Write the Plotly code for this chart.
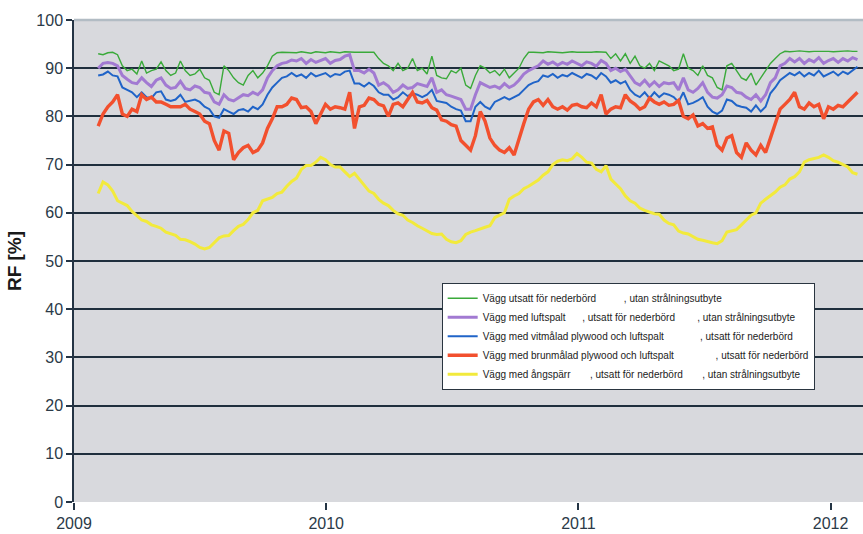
import pandas as pd
import plotly.graph_objects as go

# Weekly relative humidity readings (RF, %) from Feb 2009 to Feb 2012
weeks = pd.date_range("2009-02-05", periods=158, freq="7D")

green = [
    93, 92.8, 93.2, 93.3, 92.8, 90.5, 89.5, 89.8, 88.8, 91.5,
    89, 89.5, 89.8, 91.3, 89.5, 88.5, 89, 91.5, 89.5, 88.5,
    88.8, 89.8, 88, 87.5, 85, 84.5, 90.5, 89.5, 88, 87,
    86.5, 88.5, 89.5, 88, 89, 90.5, 92.5, 93.2, 93.3, 93.3,
    93.3, 93.2, 93.4, 93.3, 93.1, 93.4, 93.3, 93.2, 93.4, 93.3,
    93.2, 93.4, 93.3, 93.3, 93.3, 93.3, 93.3, 93.3,
    92, 91, 90.5, 89.5, 91, 89.5, 90, 92, 89.5, 90,
    88.8, 92.5, 88.5, 88, 87.8, 89.5, 89, 90, 86.5, 85.8, 88.5,
    90.5, 90, 89, 89.5, 88.5, 89.8, 88, 89, 90, 92, 93.3,
    93.3, 93.3, 93.2, 93.4, 93.3, 93.3, 93.2, 93.3, 93.4, 93.3,
    93.3, 93.2, 93.3, 93.4, 93.3, 93.3,
    92, 93, 91.5, 93, 91, 92.5, 90.5, 90, 91, 89.5, 91.5, 91, 90.5,
    89.5, 89.8, 93, 90, 89.5, 88.5, 90.5, 88.5, 88, 86,
    85.5, 90.5, 91, 89.5, 88, 87.5, 89, 86.5, 88, 89.5,
    91, 92, 93,
    93.5, 93.4, 93.5, 93.6, 93.5, 93.4, 93.5, 93.5, 93.6, 93.5,
    93.4, 93.5, 93.5, 93.6, 93.5, 93.5,
]

purple = [
    90, 91, 91.2, 91, 90.5, 88.5, 87.7, 87, 86.8, 88,
    87, 86.2, 87.5, 88, 86.5, 85.8, 86, 87.3, 85.8, 85.5,
    86.3, 86, 85, 84.8, 83, 82.5, 84.5, 83.5, 83.2, 83.8,
    84.5, 84.3, 85, 84.5, 85.5, 88, 89.5, 90.5, 91, 91.2,
    91.7, 91.5, 92, 91, 91.8, 91.2, 91.6, 92, 91, 91.6,
    91.8, 92.5, 92.8, 89.5, 89.5, 89, 89.8, 89, 86.5, 87,
    86.3, 85, 85.5, 86.5, 85.8, 86, 86.8, 86.5, 86.2, 88,
    85, 85.5, 84.5, 84.2, 83.8, 83.5, 81.5, 81.5, 84.5,
    87, 86.5, 86, 86.3, 85.8, 86.8, 86, 86.5, 87.5, 88.8,
    89.5, 90, 90.5, 91.5, 90.8, 91.3, 90.6, 91.2, 90.8, 91.5,
    91, 90.5, 91.3, 91, 90.4, 91.6, 91, 89.5, 90, 89.3,
    89.8, 88.5, 87, 86.5, 87.5, 86.3, 87.2, 86.2, 87, 86.8,
    87, 85.5, 88, 85.5, 85, 85.8, 87, 85, 84, 83.8,
    84.5, 86.3, 86, 85, 84.8, 84, 83.5, 84.5, 83.2, 84.5,
    87, 88, 90.5, 91, 92, 91.3, 92, 91, 91.8, 91.3,
    92.2, 91, 91.6, 92, 91.2, 92, 91.5, 92.2, 91.8,
]

blue = [
    88.5, 88.7, 89.3, 88.5, 88.3, 86, 85.5, 85, 84, 85,
    84, 83.8, 85, 85.2, 83.5, 83.2, 83.5, 84.5, 83, 83.3,
    83.5, 83, 82, 81.5, 80, 79.7, 81.5, 81, 80.5, 81.3,
    81.5, 81, 82, 81.5, 82.5, 84.5, 86, 87, 88, 88.3,
    89, 88.3, 88.7, 88, 89, 88.3, 88.6, 89, 88.2, 88.8,
    88.6, 89.3, 89.5, 86.8, 86.8, 86.2, 87, 86.3, 85, 84.5,
    84.5, 83.5, 84, 85, 84.2, 84.8, 84.5, 84, 84.5, 85.5,
    83.2, 83, 82.8, 82, 81.5, 81.2, 79, 79, 82,
    83, 82, 81.5, 83, 83.5, 84, 83.5, 84, 84.5, 85.5,
    86.5, 87, 87.3, 88.5, 88.2, 88.8, 88, 88.6, 88.3, 89,
    88.5, 88, 88.8, 88.5, 87.8, 89, 88.3, 87, 87.5, 86.8,
    87.3, 85.5, 84.5, 84, 85, 83.8, 85, 84, 84.8, 84.5,
    84, 83, 85, 82.5, 82.8, 83.3, 84, 82, 81, 80.5,
    81.2, 83.5, 83.2, 82.3, 82, 81.8, 81, 82.3, 81, 82,
    84.8, 86, 87.5, 88.2, 89, 88.5, 89.2, 88.3, 89, 88.5,
    89.5, 88.3, 88.8, 89.3, 88.5, 89.3, 88.8, 89.6, 90.3,
]

red = [
    78, 80.5, 82, 83, 84.5, 80.5, 80, 81.5, 81, 84.5,
    83.5, 84, 83, 83, 82.5, 82, 82, 82, 82.5, 81.5,
    81, 80.5, 79, 78.5, 75, 73, 77, 76.5, 71, 72.5,
    73.5, 74, 72.5, 73, 74.5, 77.5, 79.5, 82, 82, 82.5,
    83.8, 83.5, 81.8, 82, 81, 78.5, 80.5, 82.5, 81.5, 82,
    81.8, 81.5, 85, 77.5, 82, 82.3, 83.8, 83.5, 82.5, 82.2,
    80, 82.5, 82.8, 82, 83.5, 85, 83, 82.8, 83.3, 81.8,
    81.3, 79.3, 79, 78.3, 78, 75, 74, 73, 76,
    81, 79, 75.5, 74, 73, 72.5, 73.5, 72, 75.5, 78.5,
    81.5, 83, 83.5, 82.3, 83.5, 82, 81.5, 82, 81.3, 82.3,
    82.5, 82, 81.8, 82.8, 82, 84.5, 80.5, 81.5, 82, 81.8,
    84.5, 83.2, 82.5, 81.5, 82, 83.8, 83, 82.5, 83, 82.3,
    82.5, 83.3, 80, 79.5, 80.3, 78, 78.5, 77.5, 77.8, 74,
    73, 75.5, 76, 72.5, 71.5, 74.5, 73, 72, 74, 72.5,
    75.5, 78.5, 81.5, 82.5, 83.5, 85, 82, 81.5, 82.8, 82,
    82.5, 79.5, 82, 81.5, 82.3, 82, 83, 84, 85,
]

yellow = [
    64, 66.4, 65.8, 64.5, 62.5, 62, 61.5, 60.3, 59.5, 58.5,
    58.2, 57.5, 57.2, 56.8, 56, 55.6, 55.3, 54.5, 54.4, 54,
    53.5, 52.8, 52.5, 52.8, 53.8, 54.8, 55.2, 55.3, 56.3, 57.2,
    57.6, 58.6, 60, 60.5, 62.5, 62.8, 63.2, 64, 64.3, 65.5,
    66.5, 67.2, 69, 69.8, 69.8, 70.5, 71.5, 71, 70, 69.5,
    69.5, 68.5, 67.5, 68.2, 67, 65.8, 64.5, 64, 62.8, 62,
    61.5, 60.5, 59.8, 59.5, 58.5, 58, 57.3, 56.8, 56.3, 55.7,
    55.5, 55.6, 54.5, 54, 53.8,
    54.2, 55.5, 56, 56.3, 56.7, 57, 57.3, 59, 59.5, 60,
    62.8, 63.5, 64, 65, 65.5, 66.2, 66.8, 67.8, 68.5, 70,
    70.7, 71, 70.8, 71.2, 72.3, 71.5, 70.5, 70.3, 69, 68.5,
    69.8, 67, 66, 65, 63.5, 62.5, 62, 61, 60.5, 60.2,
    59.8, 59.7, 58.5, 57.8, 57.5, 56.2, 55.8, 55.6, 55, 54.5,
    54.3, 54, 53.8, 53.6, 54.2, 56, 56.2, 56.5, 57.5, 58.5,
    59.5, 60, 62, 62.8, 63.5, 64.3, 65.3, 65.8, 67, 67.5,
    68.5, 70.5, 71, 71.3, 71.5, 72, 71.5, 70.8, 70.5, 70,
    69.5, 68.3, 68,
]

year_ticks = ["2009-01-01", "2010-01-01", "2011-01-01", "2012-01-01"]
year_labels = ["2009", "2010", "2011", "2012"]

S = "\u00a0"
series = [
    ("Vägg utsatt för nederbörd" + S * 10 + ", utan strålningsutbyte",
     green, "#3aaa3a", 1.4),
    ("Vägg med luftspalt" + S * 6 + ", utsatt för nederbörd" + S * 8 + ", utan strålningsutbyte",
     purple, "#a27ad2", 3.0),
    ("Vägg med vitmålad plywood och luftspalt" + S * 13 + ", utsatt för nederbörd",
     blue, "#2064c8", 2.0),
    ("Vägg med brunmålad plywood och luftspalt" + S * 15 + ", utsatt för nederbörd",
     red, "#f2502e", 3.4),
    ("Vägg med ångspärr" + S * 7 + ", utsatt för nederbörd" + S * 7 + ", utan strålningsutbyte",
     yellow, "#f2ea3c", 3.0),
]

fig = go.Figure()
for name, vals, color, width in series:
    fig.add_trace(go.Scatter(
        x=weeks, y=vals, mode="lines", name=name,
        line=dict(color=color, width=width),
    ))

axis_font = dict(family="Liberation Sans, Arial, sans-serif", size=16, color="#2b3a48")

fig.update_layout(
    width=863, height=534,
    margin=dict(l=74, r=0, t=20, b=32),
    paper_bgcolor="white",
    plot_bgcolor="#d8d9dd",
    showlegend=True,
    legend=dict(
        x=0.466, y=0.455, xanchor="left", yanchor="top",
        bgcolor="white", bordercolor="#2a3540", borderwidth=1,
        font=dict(family="Liberation Sans, Arial, sans-serif", size=10, color="#222"),
        tracegroupgap=0, itemwidth=30,
    ),
    xaxis=dict(
        type="date",
        range=["2009-01-01", "2012-02-17"],
        tickvals=year_ticks, ticktext=year_labels,
        ticks="outside", ticklen=7, tickcolor="#243444", tickwidth=1.5,
        showgrid=False, zeroline=False,
        showline=False,
        tickfont=axis_font,
    ),
    yaxis=dict(
        range=[0, 100], dtick=10, tick0=0,
        ticks="outside", ticklen=6, tickcolor="#243444", tickwidth=1.5,
        showgrid=True, gridcolor="#1f2f3d", gridwidth=1.8,
        zeroline=False,
        showline=True, linecolor="#243444", linewidth=1.5,
        tickfont=axis_font,
        title=dict(text="<b>RF [%]</b>", standoff=10,
                   font=dict(family="Liberation Sans, Arial, sans-serif", size=19, color="#1a1a1a")),
    ),
    shapes=[
        dict(type="line", xref="paper", yref="paper", x0=0, x1=1, y0=1, y1=1,
             line=dict(color="#b2bcc4", width=2.5), layer="above"),
    ],
)

fig.write_html("out.html")
